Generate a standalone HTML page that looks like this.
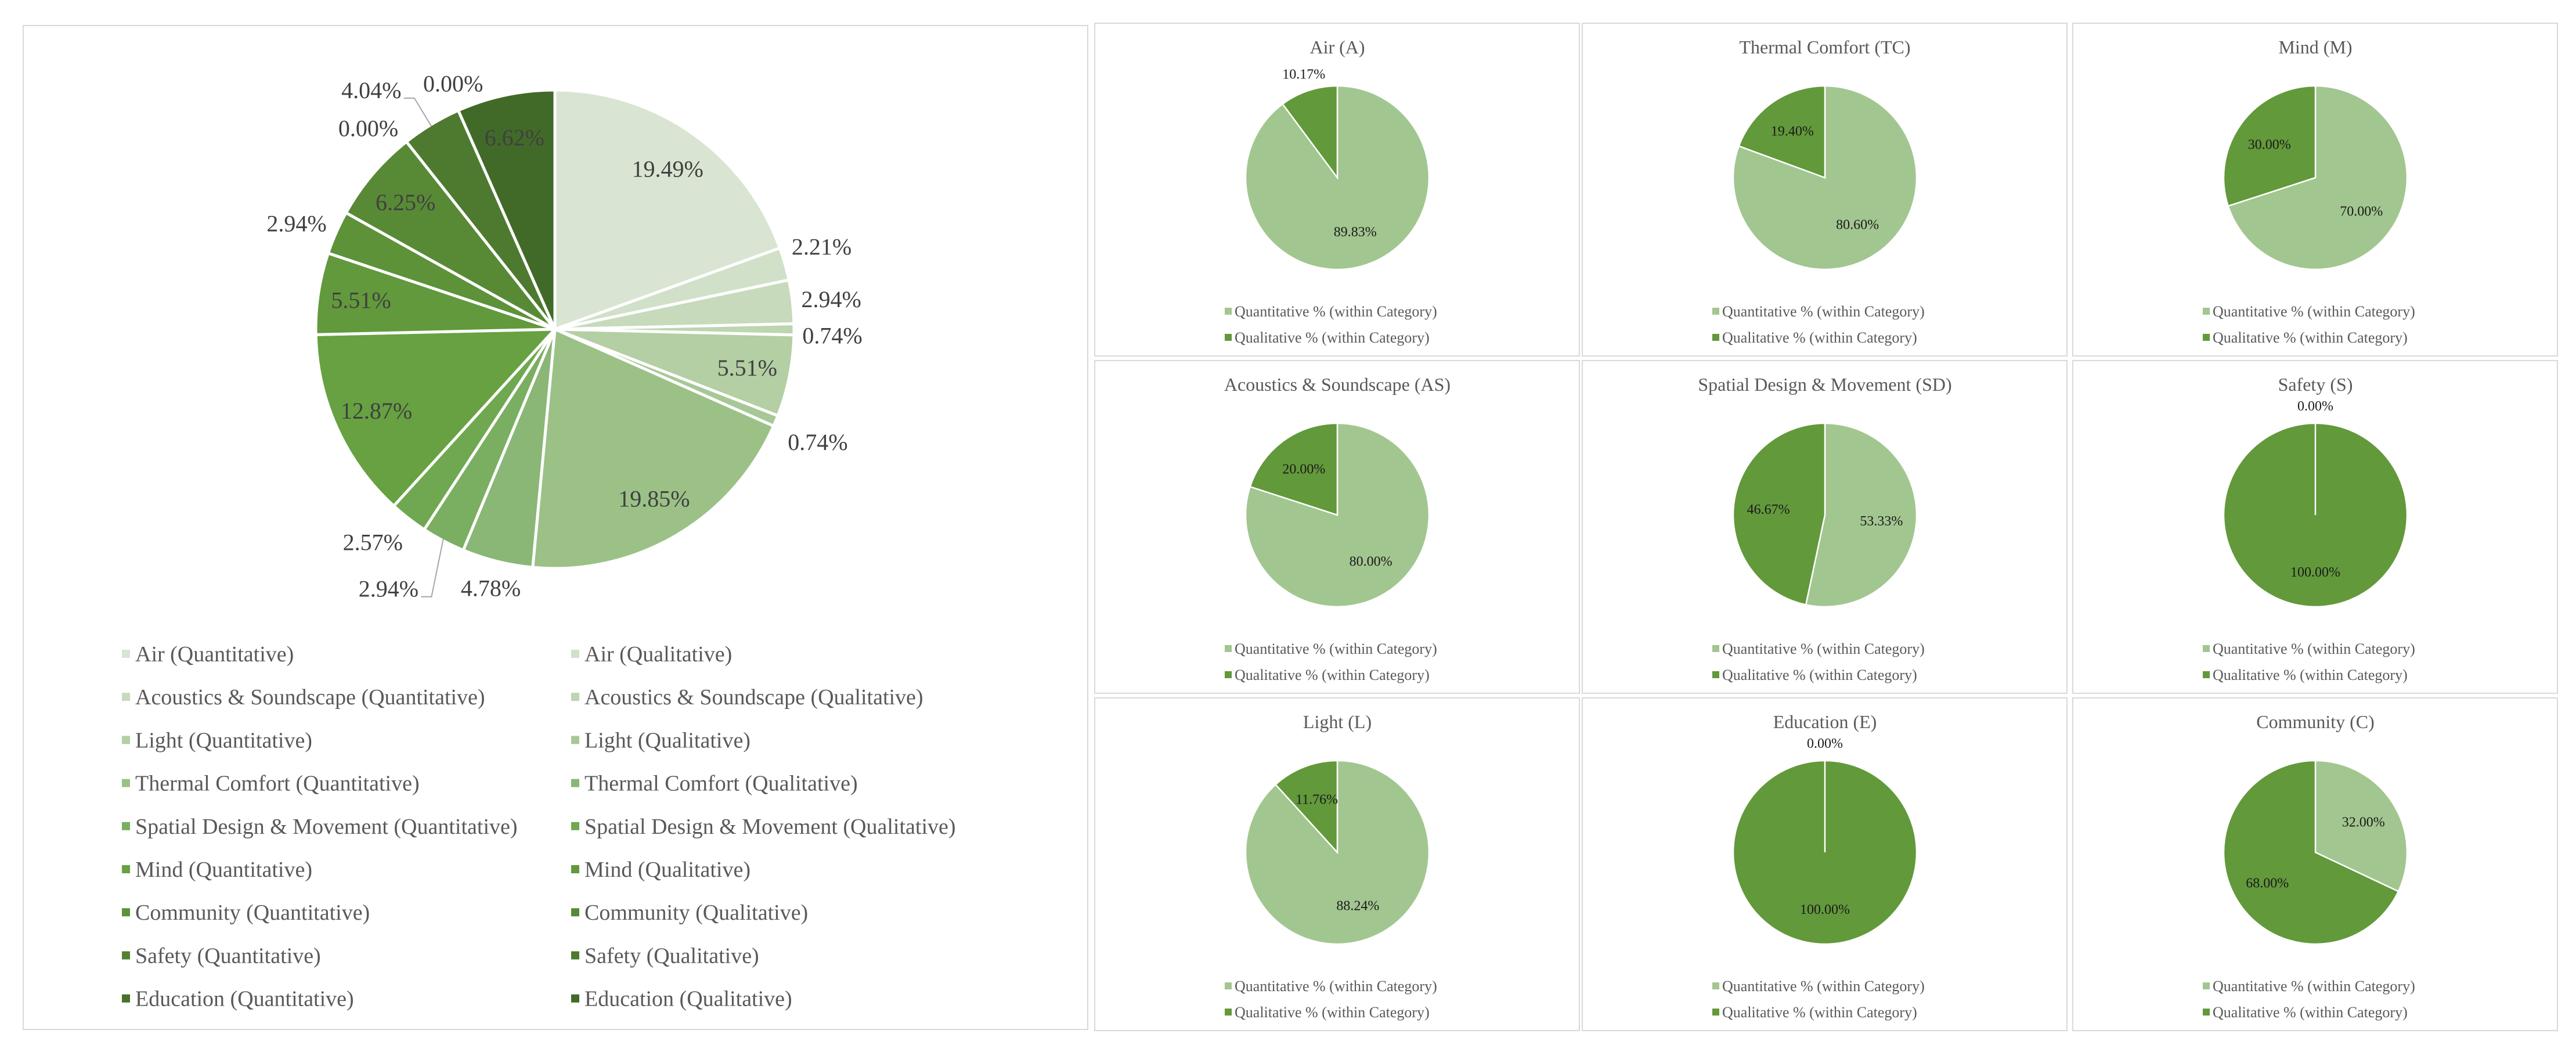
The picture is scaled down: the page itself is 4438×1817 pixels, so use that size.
<!DOCTYPE html>
<html><head><meta charset="utf-8">
<style>
html,body{margin:0;padding:0;background:#fff;}
svg{display:block;font-family:"Liberation Serif",serif;}
</style></head>
<body>
<svg id="root" width="4438" height="1817" viewBox="0 0 4438 1817" xmlns="http://www.w3.org/2000/svg">
<rect x="0" y="0" width="4438" height="1817" fill="#fff"/>
<rect x="40" y="44" width="1834" height="1729" fill="#fff" stroke="#d9d9d9" stroke-width="2"/>
<g id="bigPie"></g>
<g id="bigLegend"></g>
<g id="small"></g>
</svg>
<script>
const NS="http://www.w3.org/2000/svg";
// ---- overall pie data ----
const bigLabels=["Air (Quantitative)","Air (Qualitative)","Acoustics & Soundscape (Quantitative)","Acoustics & Soundscape (Qualitative)","Light (Quantitative)","Light (Qualitative)","Thermal Comfort (Quantitative)","Thermal Comfort (Qualitative)","Spatial Design & Movement (Quantitative)","Spatial Design & Movement (Qualitative)","Mind (Quantitative)","Mind (Qualitative)","Community (Quantitative)","Community (Qualitative)","Safety (Quantitative)","Safety (Qualitative)","Education (Quantitative)","Education (Qualitative)"];
const bigValues=[19.49,2.21,2.94,0.74,5.51,0.74,19.85,4.78,2.94,2.57,12.87,5.51,2.94,6.25,0.00,4.04,0.00,6.62];
const bigColors=["#d9e5d2","#d1e0c8","#c7dabc","#bdd5b0","#b3cfa3","#a7c896","#9bc187","#8ab676","#7aae60","#6fa850","#67a141","#62993c","#5d9239","#588a36","#528232","#4d7a2f","#47712c","#416a28"];
// ---- category pies data ----
const catTitles=["Air (A)","Thermal Comfort (TC)","Mind (M)","Acoustics & Soundscape (AS)","Spatial Design & Movement (SD)","Safety (S)","Light (L)","Education (E)","Community (C)"];
const catQuant=[89.83,80.60,70.00,80.00,53.33,0.00,88.24,0.00,32.00];
const catQual=[10.17,19.40,30.00,20.00,46.67,100.00,11.76,100.00,68.00];
const seriesNames=["Quantitative % (within Category)","Qualitative % (within Category)"];
const seriesColors=["#a2c690","#62993b"];

// layout-only label nudges for outside labels (dx,dy), by slice index
const nudge={1:[-10,-19],2:[-7,0],3:[-8,10],5:[0,21],7:[-6,7],8:[-32,47],9:[4,9],12:[4,0],14:[0,8],15:[-40,-25],16:[52,-10]};
const leaders={15:true,8:true};

function mk(tag,attrs,parent){const e=document.createElementNS(NS,tag);for(const k in attrs)e.setAttribute(k,attrs[k]);parent.appendChild(e);return e;}
function angleOf(pct){return pct/100*2*Math.PI;}
function pt(cx,cy,r,a){return [cx+r*Math.sin(a),cy-r*Math.cos(a)];}
function slicePath(cx,cy,r,a0,a1){
  const p0=pt(cx,cy,r,a0),p1=pt(cx,cy,r,a1);
  if(a1-a0>=2*Math.PI-1e-6){return `M${cx},${cy-r}A${r},${r} 0 1 1 ${cx},${cy+r}A${r},${r} 0 1 1 ${cx},${cy-r}Z M${cx},${cy}L${cx},${cy-r}`;}
  const large=(a1-a0)>Math.PI?1:0;
  return `M${cx},${cy}L${p0[0]},${p0[1]}A${r},${r} 0 ${large} 1 ${p1[0]},${p1[1]}Z`;
}
function fmt(v){return v.toFixed(2)+"%";}

// ---- big pie ----
(function(){
  const g=document.getElementById('bigPie');
  const cx=956,cy=567,r=412;
  let cum=0;
  bigValues.forEach((v,i)=>{
    const a0=angleOf(cum),a1=angleOf(cum+v);cum+=v;
    const p=mk('path',{d:slicePath(cx,cy,r,a0,a1),fill:bigColors[i],stroke:"#fff","stroke-width":5,"stroke-linejoin":"round"},g);
    
    
  });
  cum=0;
  bigValues.forEach((v,i)=>{
    const a0=angleOf(cum),a1=angleOf(cum+v);cum+=v;
    const am=(a0+a1)/2;
    let tx,ty;
    if(v>=5){
      const q=pt(cx,cy,r*0.82,am);tx=q[0];ty=q[1];
    } else {
      const s=Math.sin(am),c=Math.cos(am);
      const q=pt(cx,cy,r+22,am);
      const off=s>0.3?52:(s<-0.3?-52:0);
      const n=nudge[i]||[0,0];
      tx=q[0]+off+n[0];ty=q[1]-c*18+n[1];
      if(leaders[i]){
        const sl=pt(cx,cy,r,am);
        const ln=mk('polyline',{points:`${tx+56},${ty+14} ${tx+74},${ty+14} ${sl[0]},${sl[1]-(c>0?-3:3)}`,fill:"none",stroke:"#a6a6a6","stroke-width":2},g);
        
        
      }
    }
    const t=mk('text',{x:tx,y:ty+14,"text-anchor":"middle","font-size":40,fill:"#404040"},g);
    t.textContent=fmt(v);
    
    
  });
})();

// ---- big legend ----
(function(){
  const g=document.getElementById('bigLegend');
  bigLabels.forEach((lab,i)=>{
    const col=i%2,row=Math.floor(i/2);
    const x=col?984:210,y=1126+row*74.2;
    const e=mk('g',{},g);
    
    
    mk('rect',{x:x,y:y-7,width:14,height:14,fill:bigColors[i]},e);
    const t=mk('text',{x:x+23,y:y+13,"font-size":38,fill:"#595959"},e);
    t.textContent=lab;
  });
})();

// ---- small pies ----
(function(){
  const g=document.getElementById('small');
  const colsX=[1886,2726,3571],rowsY=[40,621,1202],W=835,H=573;
  catTitles.forEach((title,i)=>{
    const px=colsX[i%3],py=rowsY[Math.floor(i/3)];
    const pg=mk('g',{},g);
    
    
    mk('rect',{x:px,y:py,width:W,height:H,fill:"#fff",stroke:"#d9d9d9","stroke-width":2},pg);
    const tt=mk('text',{x:px+418,y:py+52,"text-anchor":"middle","font-size":32,fill:"#595959"},pg);
    tt.textContent=title;
    
    
    const cx=px+418,cy=py+266,r=158;
    const vals=[catQuant[i],catQual[i]];
    let cum=0;
    vals.forEach((v,k)=>{
      const a0=angleOf(cum),a1=angleOf(cum+v);cum+=v;
      const p=mk('path',{d:slicePath(cx,cy,r,a0,a1),fill:seriesColors[k],stroke:"#fff","stroke-width":2.5},pg);
      
      
    });
    cum=0;
    vals.forEach((v,k)=>{
      const a0=angleOf(cum),a1=angleOf(cum+v);cum+=v;
      const am=(a0+a1)/2;
      let q;
      if(v<11){q=pt(cx,cy,r+26,am);q[1]-=Math.cos(am)*4;}
      else{q=pt(cx,cy,r*0.62,am);}
      const t=mk('text',{x:q[0],y:q[1]+8,"text-anchor":"middle","font-size":24,fill:"#1a1a1a"},pg);
      t.textContent=fmt(v);
      
      
    });
    seriesNames.forEach((nm,k)=>{
      const ly=py+496+k*45;
      const e=mk('g',{},pg);
      
      
      mk('rect',{x:px+224,y:ly-6,width:12,height:12,fill:seriesColors[k]},e);
      const t=mk('text',{x:px+241,y:ly+9,"font-size":26,fill:"#595959"},e);
      t.textContent=nm;
    });
  });
})();
</script>
</body></html>
